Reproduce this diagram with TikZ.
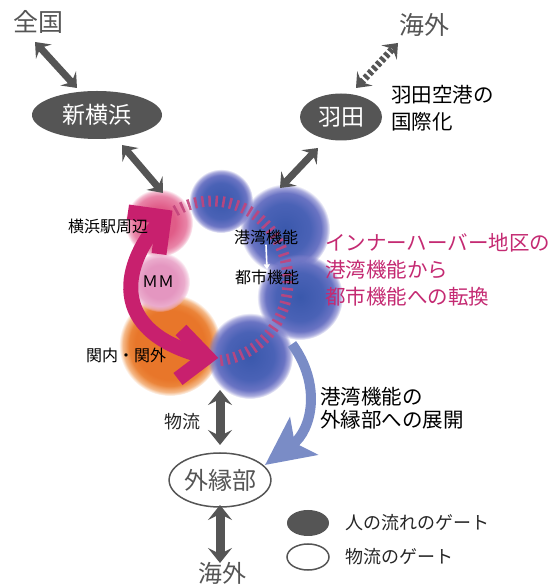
\documentclass[tikz,border=0pt]{standalone}
\usepackage{fontspec}
\setmainfont{Noto Sans CJK JP}
\usetikzlibrary{arrows.meta,fadings,shapes.geometric}
\definecolor{gr}{HTML}{555555}
\definecolor{mag}{HTML}{C8206E}
\definecolor{magtext}{HTML}{C42A72}
\definecolor{stripec}{HTML}{C2447C}
\definecolor{blarr}{HTML}{7A8CC6}
\definecolor{bcen}{HTML}{3A58AC}
\definecolor{bmid}{HTML}{4A62B6}
\definecolor{bedge}{HTML}{8482CE}
\definecolor{pcen}{HTML}{E05C88}
\definecolor{pedge}{HTML}{EE9CBA}
\definecolor{mmcen}{HTML}{E496C0}
\definecolor{mmedge}{HTML}{F0BCD6}
\definecolor{ocen}{HTML}{E8762A}
\definecolor{oedge}{HTML}{F09A50}
\pgfdeclareradialshading{softedgeshade}{\pgfpointorigin}{color(0bp)=(transparent!0); color(20bp)=(transparent!0); color(23bp)=(transparent!35); color(25bp)=(transparent!100); color(50bp)=(transparent!100)}
\pgfdeclarefading{softedge}{\pgfuseshading{softedgeshade}}
\pgfdeclareradialshading{ballblue}{\pgfpointorigin}{color(0bp)=(bcen); color(14bp)=(bmid); color(25bp)=(bedge); color(50bp)=(bedge)}
\pgfdeclareradialshading{ballpink}{\pgfpointorigin}{color(0bp)=(pcen); color(12bp)=(pcen); color(25bp)=(pedge); color(50bp)=(pedge)}
\pgfdeclareradialshading{ballmm}{\pgfpointorigin}{color(0bp)=(mmcen); color(14bp)=(mmcen); color(25bp)=(mmedge); color(50bp)=(mmedge)}
\pgfdeclareradialshading{ballorange}{\pgfpointorigin}{color(0bp)=(ocen); color(17bp)=(ocen); color(25bp)=(oedge); color(50bp)=(oedge)}
\tikzset{
  ball/.style={path fading=softedge, fit fading=true},
  garrow/.style={draw=gr, line width=7pt, {Stealth[length=13pt,width=21pt,inset=5pt]}-{Stealth[length=13pt,width=21pt,inset=5pt]}},
  garrowv/.style={draw=gr, line width=9pt, {Stealth[length=15pt,width=24pt,inset=6pt]}-{Stealth[length=15pt,width=24pt,inset=6pt]}},
  gate/.style={ellipse, fill=gr, text=white, inner sep=0pt, font=\fontsize{23}{23}\selectfont},
  gateo/.style={ellipse, draw=gr, line width=1.5pt, fill=white, text=gr, inner sep=0pt, font=\fontsize{24}{24}\selectfont},
  bigtext/.style={text=gr, inner sep=0pt, font=\fontsize{25}{25}\selectfont},
  label/.style={text=black, inner sep=0pt, font=\fontsize{20.5}{20.5}\selectfont},
  maglabel/.style={text=magtext, inner sep=0pt, font=\fontsize{20.5}{20.5}\selectfont},
  small/.style={text=black, inner sep=0pt, font=\fontsize{16}{16}\selectfont},
  legtext/.style={text=black!85, inner sep=0pt, font=\fontsize{18}{18}\selectfont},
  magline/.style={draw=mag, line width=15pt, line cap=butt},
  stripe/.style={draw=stripec, line width=11pt, dash pattern=on 2.5pt off 4.5pt, opacity=0.9},
}
\begin{document}
\begin{tikzpicture}[x=1pt,y=1pt]
\useasboundingbox (0,0) rectangle (552,584);
% circles
\shade[shading=ballpink, ball] (159,361) circle[radius=34pt];
\shade[shading=ballblue, ball] (221,383) circle[radius=32pt];
\shade[shading=ballblue, ball] (285,355) circle[radius=45pt];
\shade[shading=ballblue, ball] (300,287) circle[radius=43pt];
\shade[shading=ballorange, ball] (170,239) circle[radius=51pt];
\shade[shading=ballmm, ball] (160,302) circle[radius=30pt];
\shade[shading=ballblue, ball] (250,228) circle[radius=43pt];
% stripes
\draw[stripe] (212,303) ++(119:76pt and 80pt) arc[start angle=119, end angle=-86, x radius=76pt, y radius=80pt];
% magenta arrow
\draw[magline] (164,367) .. controls (122,322) and (104,252) .. (207,227);
\draw[magline, line join=miter] (128,372) -- (164,367) -- (159,330);
\draw[magline, line join=miter] (181,254) -- (207,227) -- (178,205);
% blue arrow
\draw[draw=blarr, line width=10pt, -{Stealth[length=48pt,width=46pt,inset=11pt]}] (292,240) .. controls (322,199) and (312,154) .. (265,119);
% nodes
\node[bigtext] (zenkoku) at (38,562) {全国};
\node[bigtext] (kaigai1) at (424,559) {海外};
\node[gate, minimum width=130pt, minimum height=48pt] (shinyoko) at (97,469) {新横浜};
\node[gate, minimum width=82pt, minimum height=47pt] (haneda) at (341,467) {羽田};
\node[label, anchor=west] (hn1) at (391,489) {羽田空港の};
\node[label, anchor=west] (hn2) at (391,462) {国際化};
\node[small] (yst) at (108,358) {横浜駅周辺};
\node[small] (kw1) at (266,347) {港湾機能};
\node[small] (ts1) at (267,307) {都市機能};
\node[small] (mm) at (158,302) {ＭＭ};
\node[small] (kannai) at (126,229) {関内・関外};
\node[maglabel, anchor=west] (m1) at (325,341) {インナーハーバー地区の};
\node[maglabel, anchor=west] (m2) at (325,314) {港湾機能から};
\node[maglabel, anchor=west] (m3) at (325,287) {都市機能への転換};
\node[label, anchor=west] (t1) at (320,187) {港湾機能の};
\node[label, anchor=west] (t2) at (320,164) {外縁部への展開};
\node[legtext] (butsuryu) at (182,162) {物流};
\node[gateo, minimum width=90pt, minimum height=54pt] (gaien) at (220,104) {外縁部};
\node[bigtext, font=\fontsize{24}{24}\selectfont] (kaigai2) at (222,11) {海外};
\node[gate, minimum width=42pt, minimum height=26pt] (leg1) at (308,61) {};
\node[legtext, anchor=west] (legt1) at (345,61) {人の流れのゲート};
\node[gateo, minimum width=42pt, minimum height=26pt] (leg2) at (308,27) {};
\node[legtext, anchor=west] (legt2) at (345,27) {物流のゲート};
% white arrow
\draw[white, line width=1.6pt, -{Triangle[length=5pt,width=6pt]}] (kw1.south) -- (ts1.north);
% gray arrows
\coordinate (a1s) at (35,542); \coordinate (a1e) at (77,496);
\coordinate (a2s) at (122,439); \coordinate (a2e) at (163,391);
\coordinate (a3s) at (318,436); \coordinate (a3e) at (280,396);
\coordinate (a4s) at (356,496); \coordinate (a4e) at (398,541);
\coordinate (a5s) at (220,194); \coordinate (a5e) at (220,139);
\coordinate (a6s) at (220,79); \coordinate (a6e) at (220,21);
\draw[garrow] (a1s) -- (a1e);
\draw[garrow] (a2s) -- (a2e);
\draw[garrow] (a3s) -- (a3e);
\draw[garrow, dash pattern=on 3.5pt off 2.5pt] (a4s) -- (a4e);
\draw[garrowv] (a5s) -- (a5e);
\draw[garrowv] (a6s) -- (a6e);
\end{tikzpicture}
\end{document}
